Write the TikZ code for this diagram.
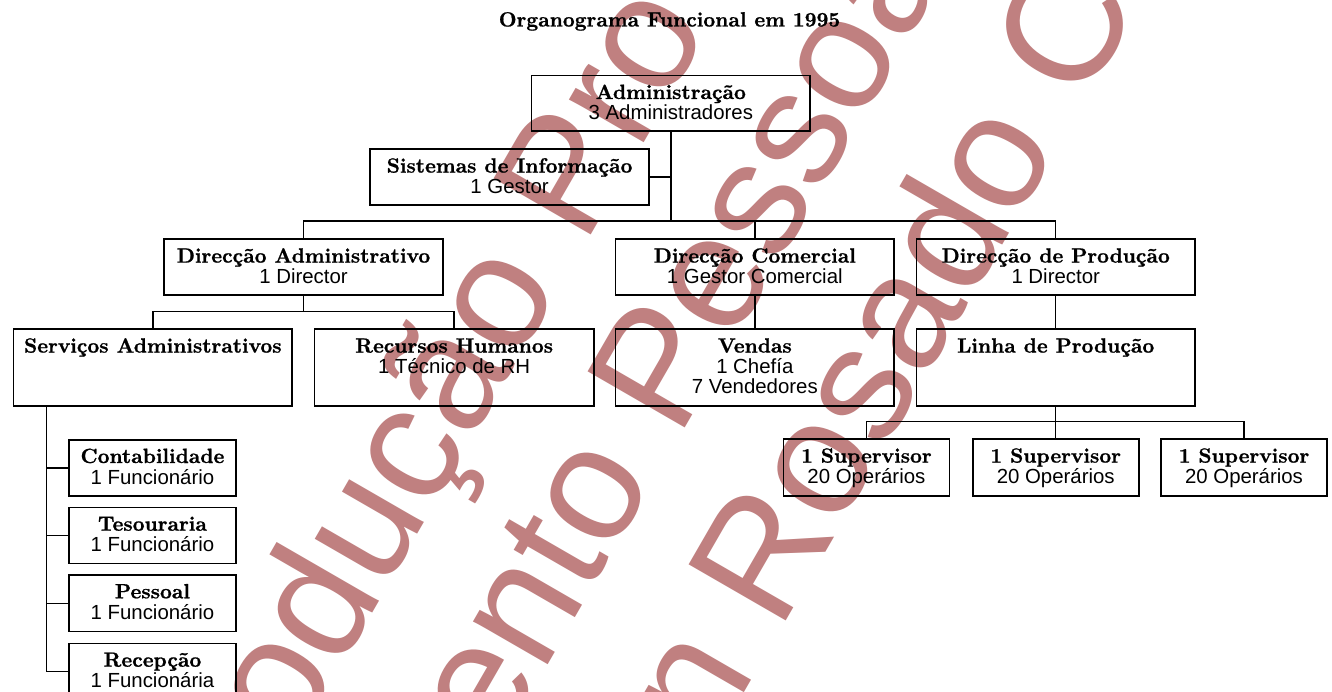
\documentclass[tikz,border=0pt]{standalone}
\usepackage{fontspec}
\newfontfamily\arialf{Liberation Sans}
\newfontfamily\boldf[Extension=.otf, FakeBold=0.9]{lmroman10-bold}
\definecolor{wmcol}{RGB}{192,128,128}
\newcommand\obox[5]{\node[boxst, minimum width={(#4-#2)*1pt}, minimum height={(#5-#3)*1pt}] (#1) at (#2,-#3) {};}
\newcommand\ttext[4]{\node[ttl] (#1) at ([yshift=-#3pt]#2.north) {#4};}
\newcommand\stext[4]{\node[sub] (#1) at ([yshift=-#3pt]#2.north) {#4};}
\begin{document}
\begin{tikzpicture}[x=1pt,y=1pt,
  boxst/.style={draw, line width=1.6pt, inner sep=0pt, anchor=north west},
  conn/.style={line width=1.4pt},
  ttl/.style={anchor=base, inner sep=0pt, font=\boldf\fontsize{20.6}{24}\selectfont},
  sub/.style={anchor=base, inner sep=0pt, font=\arialf\fontsize{20.4}{24}\selectfont},
  wm/.style={anchor=base west, inner sep=0pt, rotate=60, text=wmcol, font=\arialf\fontsize{163}{163}\selectfont}]
\useasboundingbox (0,0) rectangle (1332,-692);
\fill[white] (0,0) rectangle (1332,-692);
\begin{scope}
\clip (0,0) rectangle (1332,-692);
\node[wm] (wmA) at (294,-749) {odução Pro};
\node[wm] (wmB) at (497,-753) {ento Pessoa};
\node[wm] (wmC) at (711,-750) {n Rosado C};
\end{scope}
% title
\node[ttl] (title) at (669.5,-26.5) {Organograma Funcional em 1995};
% boxes
\obox{adm}{530.7}{74.7}{809.3}{130.3}
\obox{sis}{369.3}{148.3}{648.3}{204}
\obox{dadm}{163.3}{238.3}{442.1}{294.3}
\obox{dcom}{614.6}{238.3}{893.4}{294.3}
\obox{dprod}{915.5}{238.3}{1194.3}{294.3}
\obox{serv}{12.7}{328.3}{291.4}{405}
\obox{rh}{313.6}{328.3}{593.1}{405}
\obox{vend}{614.6}{328.3}{893.4}{405}
\obox{linha}{915.5}{328.3}{1194.3}{405}
\obox{supA}{782.6}{438.3}{948.6}{495}
\obox{supB}{971.9}{438.3}{1137.9}{495}
\obox{supC}{1160.2}{438.3}{1326.2}{495}
\obox{cont}{68.3}{439}{235}{495}
\obox{tes}{68.3}{506.7}{235}{562.7}
\obox{pes}{68.3}{574.3}{235}{630.7}
\obox{rec}{68.3}{642.7}{235}{698.7}
% texts
\ttext{admA}{adm}{24.3}{Administração}
\stext{admB}{adm}{45}{3 Administradores}
\ttext{sisA}{sis}{24.3}{Sistemas de Informação}
\stext{sisB}{sis}{45}{1 Gestor}
\ttext{dadmA}{dadm}{24.3}{Direcção Administrativo}
\stext{dadmB}{dadm}{45}{1 Director}
\ttext{dcomA}{dcom}{24.3}{Direcção Comercial}
\stext{dcomB}{dcom}{45}{1 Gestor Comercial}
\ttext{dprodA}{dprod}{24.3}{Direcção de Produção}
\stext{dprodB}{dprod}{45}{1 Director}
\ttext{servA}{serv}{24.3}{Serviços Administrativos}
\ttext{rhA}{rh}{24.3}{Recursos Humanos}
\stext{rhB}{rh}{45}{1 Técnico de RH}
\ttext{vendA}{vend}{24.3}{Vendas}
\stext{vendB}{vend}{45}{1 Chefía}
\stext{vendC}{vend}{65.3}{7 Vendedores}
\ttext{linhaA}{linha}{24.3}{Linha de Produção}
\ttext{supAA}{supA}{24.3}{1 Supervisor}
\stext{supAB}{supA}{45}{20 Operários}
\ttext{supBA}{supB}{24.3}{1 Supervisor}
\stext{supBB}{supB}{45}{20 Operários}
\ttext{supCA}{supC}{24.3}{1 Supervisor}
\stext{supCB}{supC}{45}{20 Operários}
\ttext{contA}{cont}{24}{Contabilidade}
\stext{contB}{cont}{45}{1 Funcionário}
\ttext{tesA}{tes}{24}{Tesouraria}
\stext{tesB}{tes}{45}{1 Funcionário}
\ttext{pesA}{pes}{24}{Pessoal}
\stext{pesB}{pes}{45}{1 Funcionário}
\ttext{recA}{rec}{24}{Recepção}
\stext{recB}{rec}{45}{1 Funcionária}
% connectors
\coordinate (yA) at (0,-221);
\coordinate (yB) at (0,-311.3);
\coordinate (yC) at (0,-421.7);
\coordinate (busA) at (adm.south |- yA);
\draw[conn] (adm.south) -- (busA);
\draw[conn] (sis.east) -- (sis.east -| busA);
\draw[conn] (dadm.north) |- (busA) -| (dprod.north);
\draw[conn] (dcom.north) -- (dcom.north |- busA);
\coordinate (busB) at (dadm.south |- yB);
\draw[conn] (dadm.south) -- (busB);
\draw[conn] (serv.north) |- (busB) -| (rh.north);
\draw[conn] (dcom.south) -- (vend.north);
\draw[conn] (dprod.south) -- (linha.north);
\coordinate (busC) at (linha.south |- yC);
\draw[conn] (linha.south) -- (busC);
\draw[conn] (supA.north) |- (busC) -| (supC.north);
\draw[conn] (supB.north) -- (supB.north |- busC);
\coordinate (spine) at (46.7,-405);
\draw[conn] (spine) |- (rec.west);
\foreach \b in {cont,tes,pes} \draw[conn] (spine |- \b.west) -- (\b.west);
\end{tikzpicture}
\end{document}
